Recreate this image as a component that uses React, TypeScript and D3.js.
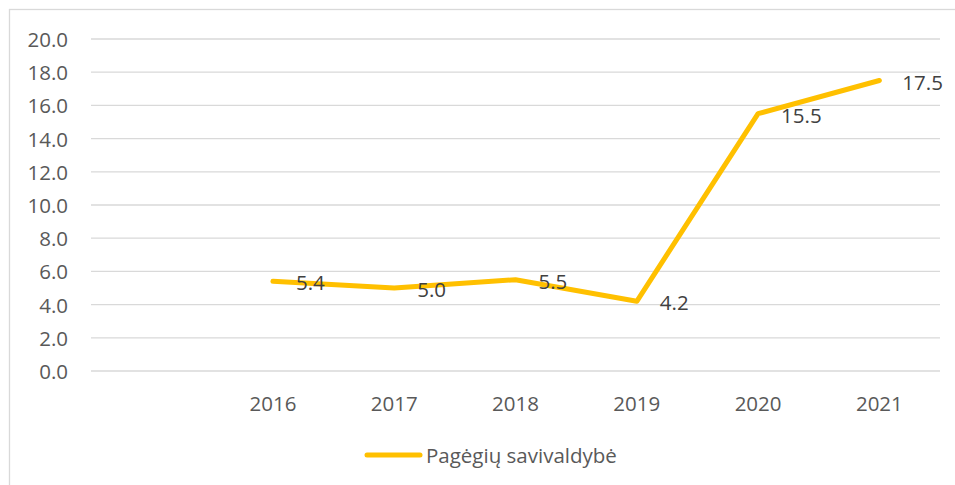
import React from "react";
import * as d3 from "d3";

const categories = ["", "2016", "2017", "2018", "2019", "2020", "2021"];
const years = ["2016", "2017", "2018", "2019", "2020", "2021"];
const values = [5.4, 5.0, 5.5, 4.2, 15.5, 17.5];
const yTicks = [0, 2, 4, 6, 8, 10, 12, 14, 16, 18, 20];
const seriesName = "Pagėgių savivaldybė";

const W = 955;
const H = 485;
const FONT = "'Open Sans', 'Liberation Sans', sans-serif";
const FS = 20.5;

export default function App() {
  const x = d3.scaleBand().domain(categories).range([91, 940]);
  const y = d3.scaleLinear().domain([0, 20]).range([371, 39]);
  const cx = (c: string) => (x(c) ?? 0) + x.bandwidth() / 2;
  const line = d3
    .line<number>()
    .x((_, i) => cx(years[i]))
    .y((d) => y(d));

  return (
    <svg
      width={W}
      height={H}
      style={{ position: "absolute", left: 0, top: 0, background: "#fff" }}
    >
      <rect x={9.5} y={9.5} width={W + 20} height={H + 20} fill="#fff" stroke="#d9d9d9" strokeWidth={1.3} />
      {yTicks.map((t) => (
        <g key={t}>
          <line x1={91} x2={940} y1={y(t)} y2={y(t)} stroke="#d9d9d9" strokeWidth={1.3} />
          <text
            x={68}
            y={y(t)}
            textAnchor="end"
            dominantBaseline="central"
            fontFamily={FONT}
            fontSize={FS}
            fill="#595959"
          >
            {t.toFixed(1)}
          </text>
        </g>
      ))}
      {categories.map((c) =>
        c ? (
          <text
            key={c}
            x={cx(c)}
            y={403}
            textAnchor="middle"
            dominantBaseline="central"
            fontFamily={FONT}
            fontSize={FS}
            fill="#595959"
          >
            {c}
          </text>
        ) : null
      )}
      <path
        d={line(values) ?? ""}
        fill="none"
        stroke="#FFC000"
        strokeWidth={5}
        strokeLinejoin="round"
        strokeLinecap="round"
      />
      {values.map((v, i) => (
        <text
          key={i}
          x={cx(years[i]) + 23}
          y={y(v) + 1}
          dominantBaseline="central"
          fontFamily={FONT}
          fontSize={FS}
          fill="#404040"
        >
          {v.toFixed(1)}
        </text>
      ))}
      <line x1={367} x2={420} y1={455} y2={455} stroke="#FFC000" strokeWidth={5} strokeLinecap="round" />
      <text
        x={426}
        y={455}
        dominantBaseline="central"
        fontFamily={FONT}
        fontSize={FS}
        fill="#595959"
      >
        {seriesName}
      </text>
    </svg>
  );
}
